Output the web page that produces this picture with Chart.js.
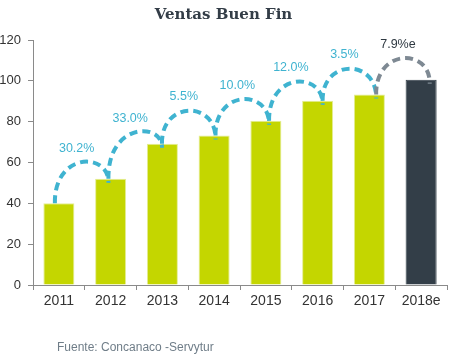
<!DOCTYPE html>
<html>
<head>
<meta charset="utf-8">
<script src="https://cdn.jsdelivr.net/npm/chart.js@4/dist/chart.umd.min.js"></script>
<style>
  html, body { margin: 0; padding: 0; background: #ffffff; }
  #wrap { position: relative; width: 458px; height: 357px; }
  #footer { position: absolute; left: 57px; top: 340px; font: 12px "Liberation Sans", Arial, sans-serif; color: #6f7d88; white-space: nowrap; }
</style>
</head>
<body>
<div id="wrap">
  <canvas id="c" width="458" height="357"></canvas>
  <div id="footer">Fuente: Concanaco -Servytur</div>
</div>
<script>
const categories = ['2011', '2012', '2013', '2014', '2015', '2016', '2017', '2018e'];
const sales = [40, 52, 69.2, 73.2, 80.4, 90.2, 93.3, 100.5];
const growthLabels = ['30.2%', '33.0%', '5.5%', '10.0%', '12.0%', '3.5%', '7.9%e'];
const yTicks = [0, 20, 40, 60, 80, 100, 120];

const GREEN = '#c4d600';
const DARK = '#333e48';
const BLUE = '#3fb3d0';
const GREY = '#7e8993';

const arcPlugin = {
  id: 'arcs',
  afterDatasetsDraw(chart) {
    const ctx = chart.ctx;
    const xs = chart.scales.x, ys = chart.scales.y;
    ctx.save();
    for (let i = 0; i < sales.length - 1; i++) {
      const last = i === sales.length - 2;
      const x0 = xs.getPixelForValue(i) + (i * 1.8 - 4);
      const x1 = xs.getPixelForValue(i + 1) + ((i + 1) * 1.8 - 4);
      const y0 = ys.getPixelForValue(sales[i]);
      const y1 = ys.getPixelForValue(sales[i + 1]) + 4;
      const peak = (y0 + y1) / 2 - 31;
      const c = (peak - (y0 + y1) / 8) / 0.75;
      ctx.beginPath();
      ctx.setLineDash([8, 5]);
      ctx.lineWidth = 4;
      ctx.strokeStyle = last ? GREY : BLUE;
      ctx.moveTo(x0, y0);
      ctx.bezierCurveTo(x0 - 1, c, x1 + 1, c, x1, y1);
      ctx.stroke();
      ctx.setLineDash([]);
      ctx.font = '12.5px "Liberation Sans", Arial, sans-serif';
      ctx.fillStyle = last ? '#2f3942' : BLUE;
      ctx.textAlign = 'center';
      ctx.textBaseline = 'middle';
      ctx.fillText(growthLabels[i], (x0 + x1) / 2 - 5, peak - 14);
    }
    ctx.restore();
  }
};

new Chart(document.getElementById('c'), {
  type: 'bar',
  data: {
    labels: categories,
    datasets: [{
      data: sales,
      backgroundColor: sales.map((v, i) => i === sales.length - 1 ? DARK : GREEN),
      borderColor: sales.map((v, i) => i === sales.length - 1 ? DARK : '#e4ed96'),
      borderWidth: 1,
      barPercentage: 0.6,
      categoryPercentage: 1.0
    }]
  },
  options: {
    responsive: false,
    animation: false,
    layout: { padding: { left: 0, right: 11, top: 0, bottom: 42 } },
    plugins: {
      legend: { display: false },
      tooltip: { enabled: false },
      title: {
        display: true,
        text: 'Ventas Buen Fin',
        color: '#333d47',
        font: { family: '"DejaVu Serif", serif', weight: 'bold', size: 15 },
        padding: { top: 6, bottom: 16 }
      }
    },
    scales: {
      x: {
        grid: { display: true, drawOnChartArea: false, drawTicks: true, tickLength: 5, color: '#8a8a8a', offset: true },
        border: { display: true, color: '#8a8a8a', width: 1 },
        ticks: { color: '#333333', font: { family: '"Liberation Sans", Arial, sans-serif', size: 14 }, padding: 3 },
        afterFit(s) { s.height = 30; }
      },
      y: {
        min: 0, max: 120,
        afterBuildTicks(s) { s.ticks = yTicks.map(v => ({ value: v })); },
        grid: { display: true, drawOnChartArea: false, drawTicks: true, tickLength: 5, color: '#8a8a8a' },
        border: { display: true, color: '#8a8a8a', width: 1 },
        ticks: { color: '#333333', font: { family: '"Liberation Sans", Arial, sans-serif', size: 13 }, padding: 7 },
        afterFit(s) { s.width = 33; }
      }
    }
  },
  plugins: [arcPlugin]
});
</script>
</body>
</html>
